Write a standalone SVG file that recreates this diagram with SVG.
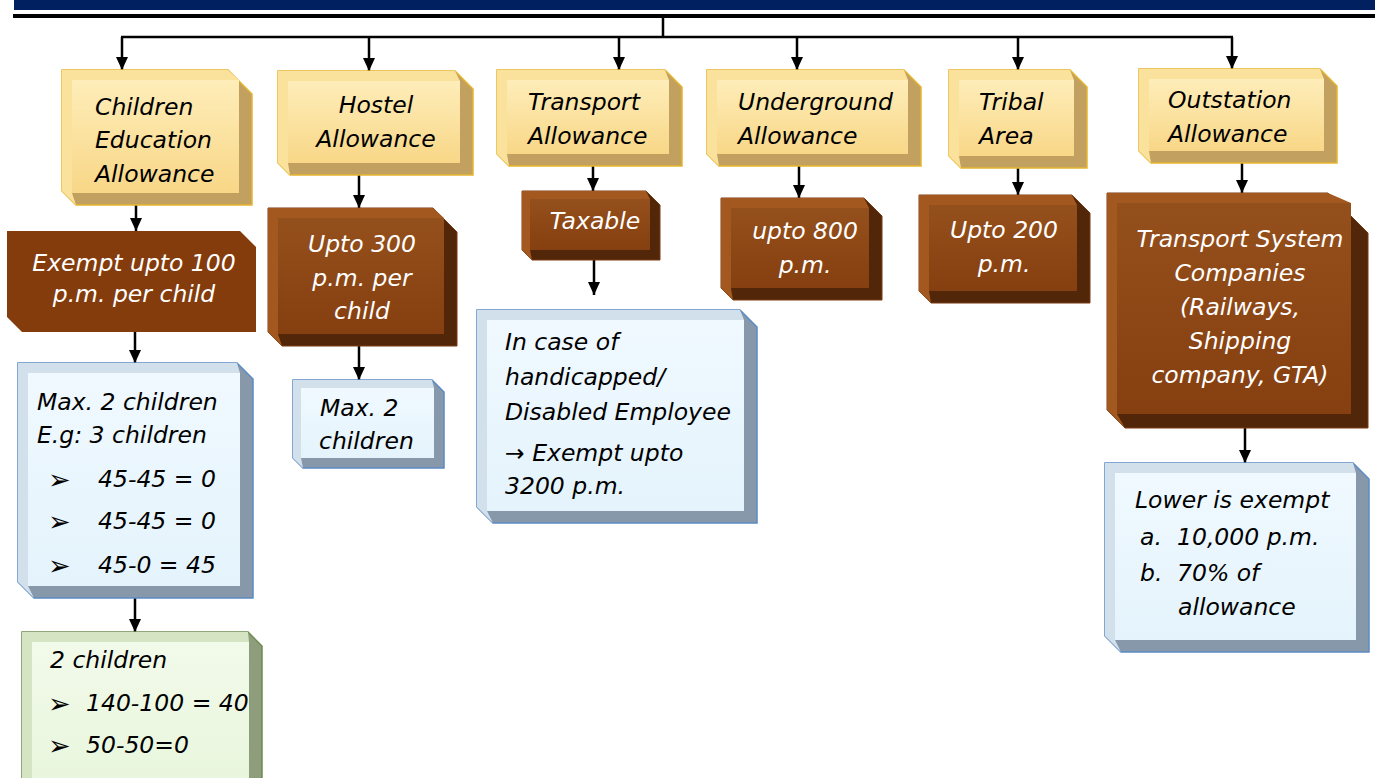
<svg xmlns="http://www.w3.org/2000/svg" width="1375" height="778" viewBox="0 0 1375 778">
<defs>
<linearGradient id="gy" x1="0" y1="0" x2="0" y2="1"><stop offset="0" stop-color="#FEEDB9"/><stop offset="1" stop-color="#F8D787"/></linearGradient>
<linearGradient id="gb" x1="0" y1="0" x2="0" y2="1"><stop offset="0" stop-color="#94501C"/><stop offset="1" stop-color="#863F10"/></linearGradient>
<linearGradient id="gl" x1="0" y1="0" x2="0" y2="1"><stop offset="0" stop-color="#F0F9FF"/><stop offset="1" stop-color="#E4F3FC"/></linearGradient>
<linearGradient id="gg" x1="0" y1="0" x2="0" y2="1"><stop offset="0" stop-color="#F2FAEA"/><stop offset="1" stop-color="#E8F6DC"/></linearGradient>
<marker id="ah" viewBox="0 0 13 12" refX="13" refY="6" markerWidth="13" markerHeight="12" orient="auto" markerUnits="userSpaceOnUse"><path d="M0,0 L13,6 L0,12 z" fill="#000"/></marker>
</defs>
<style>
.yo{fill:#C2A060;stroke:#E6B52E;stroke-width:1.5}
.yl{fill:#FAE19C}
.yf{fill:url(#gy)}
.bo{fill:#522608;stroke:#7A3A12;stroke-width:1}
.bl{fill:#A3581F}
.bf{fill:url(#gb)}
.lo{fill:#8798AA;stroke:#5B8AC4;stroke-width:1.5}
.ll{fill:#D2E0EC}
.lf{fill:url(#gl)}
.go{fill:#8E9E7C;stroke:#6E8A4E;stroke-width:1.5}
.gl{fill:#D5E5C4}
.gf{fill:url(#gg)}
.t{font-family:"DejaVu Sans",sans-serif;font-style:italic;font-size:23.5px;fill:#000}
.bu{font-family:"DejaVu Sans",sans-serif;font-size:27px;fill:#000}
.w{fill:#fff}
.m{text-anchor:middle}
.c{fill:none;stroke:#000;stroke-width:2.5}
</style>
<g id="header">
<rect x="14" y="0" width="1361" height="10" fill="#00205F"/>
<rect x="13" y="14" width="1362" height="4" fill="#000"/>
</g>
<g id="connectors">
<path class="c" d="M663,17 V37 M121,37 H1233"/>
<path class="c" d="M122,37 V70" marker-end="url(#ah)"/>
<path class="c" d="M369,37 V71" marker-end="url(#ah)"/>
<path class="c" d="M619,37 V70" marker-end="url(#ah)"/>
<path class="c" d="M797,37 V70" marker-end="url(#ah)"/>
<path class="c" d="M1018,37 V70" marker-end="url(#ah)"/>
<path class="c" d="M1232,37 V69" marker-end="url(#ah)"/>
<path class="c" d="M136,205 V231" marker-end="url(#ah)"/>
<path class="c" d="M135,332 V363" marker-end="url(#ah)"/>
<path class="c" d="M135,598 V632" marker-end="url(#ah)"/>
<path class="c" d="M359,175 V208" marker-end="url(#ah)"/>
<path class="c" d="M359,346 V380" marker-end="url(#ah)"/>
<path class="c" d="M593,166 V191" marker-end="url(#ah)"/>
<path class="c" d="M594,260 V295" marker-end="url(#ah)"/>
<path class="c" d="M799,166 V198" marker-end="url(#ah)"/>
<path class="c" d="M1018,168 V195" marker-end="url(#ah)"/>
<path class="c" d="M1242,163 V193" marker-end="url(#ah)"/>
<path class="c" d="M1245,428 V463" marker-end="url(#ah)"/>
</g>
<g id="cea">
<polygon class="yo" points="62,70 228,70 252,94 252,205 76,205 62,191"/>
<polygon class="yl" points="62,70 228,70 239,80 72,80 72,193 76,205 62,191"/>
<rect class="yf" x="72" y="80" width="167" height="113"/>
<text class="t" x="95" y="115">Children</text>
<text class="t" x="95" y="148">Education</text>
<text class="t" x="95" y="182">Allowance</text>
</g>
<g id="cea-exempt">
<polygon fill="#843C0C" points="7,231 240,231 256,247 256,332 22,332 7,317"/>
<text class="t w m" x="134" y="271">Exempt upto 100</text>
<text class="t w m" x="134" y="302">p.m. per child</text>
</g>
<g id="cea-max">
<polygon class="lo" points="18,363 237,363 253,379 253,598 34,598 18,582"/>
<polygon class="ll" points="18,363 237,363 240,373 28,373 28,586 34,598 18,582"/>
<rect class="lf" x="28" y="373" width="212" height="213"/>
<text class="t" x="37" y="410">Max. 2 children</text>
<text class="t" x="37" y="443">E.g: 3 children</text>
<text class="bu" x="48" y="489">➢</text><text class="t" x="98" y="487">45-45 = 0</text>
<text class="bu" x="48" y="531">➢</text><text class="t" x="98" y="529">45-45 = 0</text>
<text class="bu" x="48" y="575">➢</text><text class="t" x="98" y="573">45-0 = 45</text>
</g>
<g id="cea-two">
<polygon class="go" points="22,632 248,632 262,646 262,792 36,792 22,778"/>
<polygon class="gl" points="22,632 248,632 249,642 32,642 32,792 22,792"/>
<rect class="gf" x="32" y="642" width="217" height="150"/>
<text class="t" x="50" y="668">2 children</text>
<text class="bu" x="48" y="713">➢</text><text class="t" x="86" y="711">140-100 = 40</text>
<text class="bu" x="48" y="755">➢</text><text class="t" x="86" y="753">50-50=0</text>
</g>
<g id="hostel">
<polygon class="yo" points="278,71 455,71 473,89 473,175 290,175 278,163"/>
<polygon class="yl" points="278,71 455,71 460,81 288,81 288,163 290,175 278,163"/>
<rect class="yf" x="288" y="81" width="172" height="82"/>
<text class="t m" x="376" y="113">Hostel</text>
<text class="t m" x="376" y="147">Allowance</text>
</g>
<g id="hostel-upto">
<polygon class="bo" points="268,208 433,208 457,232 457,346 282,346 268,332"/>
<polygon class="bl" points="268,208 433,208 444,218 278,218 278,334 282,346 268,332"/>
<rect class="bf" x="278" y="218" width="166" height="116"/>
<text class="t w m" x="362" y="252">Upto 300</text>
<text class="t w m" x="362" y="286">p.m. per</text>
<text class="t w m" x="362" y="319">child</text>
</g>
<g id="hostel-max">
<polygon class="lo" points="293,380 432,380 444,392 444,468 303,468 293,458"/>
<polygon class="ll" points="293,380 432,380 434,388 301,388 301,458 303,468 293,458"/>
<rect class="lf" x="301" y="388" width="133" height="70"/>
<text class="t" x="320" y="416">Max. 2</text>
<text class="t" x="319" y="449">children</text>
</g>
<g id="transport">
<polygon class="yo" points="497,70 665,70 682,87 682,166 509,166 497,154"/>
<polygon class="yl" points="497,70 665,70 669,80 507,80 507,154 509,166 497,154"/>
<rect class="yf" x="507" y="80" width="162" height="74"/>
<text class="t" x="528" y="110">Transport</text>
<text class="t" x="528" y="144">Allowance</text>
</g>
<g id="transport-taxable">
<polygon class="bo" points="522,191 646,191 660,205 660,260 532,260 522,250"/>
<polygon class="bl" points="522,191 646,191 650,199 530,199 530,250 532,260 522,250"/>
<rect class="bf" x="530" y="199" width="120" height="51"/>
<text class="t w m" x="595" y="229">Taxable</text>
</g>
<g id="transport-disabled">
<polygon class="lo" points="477,310 740,310 757,327 757,523 493,523 477,507"/>
<polygon class="ll" points="477,310 740,310 744,320 487,320 487,511 493,523 477,507"/>
<rect class="lf" x="487" y="320" width="257" height="191"/>
<text class="t" x="505" y="350">In case of</text>
<text class="t" x="505" y="385">handicapped/</text>
<text class="t" x="505" y="420">Disabled Employee</text>
<text class="t" x="505" y="461">→ Exempt upto</text>
<text class="t" x="505" y="494">3200 p.m.</text>
</g>
<g id="underground">
<polygon class="yo" points="707,70 904,70 921,87 921,166 719,166 707,154"/>
<polygon class="yl" points="707,70 904,70 908,80 717,80 717,154 719,166 707,154"/>
<rect class="yf" x="717" y="80" width="191" height="74"/>
<text class="t" x="738" y="110">Underground</text>
<text class="t" x="738" y="144">Allowance</text>
</g>
<g id="underground-upto">
<polygon class="bo" points="721,198 864,198 882,216 882,300 733,300 721,288"/>
<polygon class="bl" points="721,198 864,198 869,208 731,208 731,288 733,300 721,288"/>
<rect class="bf" x="731" y="208" width="138" height="80"/>
<text class="t w m" x="805" y="239">upto 800</text>
<text class="t w m" x="805" y="273">p.m.</text>
</g>
<g id="tribal">
<polygon class="yo" points="949,70 1070,70 1087,87 1087,168 961,168 949,156"/>
<polygon class="yl" points="949,70 1070,70 1074,80 959,80 959,156 961,168 949,156"/>
<rect class="yf" x="959" y="80" width="115" height="76"/>
<text class="t" x="979" y="110">Tribal</text>
<text class="t" x="979" y="144">Area</text>
</g>
<g id="tribal-upto">
<polygon class="bo" points="919,195 1072,195 1090,213 1090,303 931,303 919,291"/>
<polygon class="bl" points="919,195 1072,195 1077,205 929,205 929,291 931,303 919,291"/>
<rect class="bf" x="929" y="205" width="148" height="86"/>
<text class="t w m" x="1004" y="238">Upto 200</text>
<text class="t w m" x="1004" y="272">p.m.</text>
</g>
<g id="outstation">
<polygon class="yo" points="1139,69 1320,69 1337,86 1337,163 1151,163 1139,151"/>
<polygon class="yl" points="1139,69 1320,69 1324,79 1149,79 1149,151 1151,163 1139,151"/>
<rect class="yf" x="1149" y="79" width="175" height="72"/>
<text class="t" x="1168" y="108">Outstation</text>
<text class="t" x="1168" y="142">Allowance</text>
</g>
<g id="outstation-companies">
<polygon class="bo" points="1107,193 1328,193 1368,233 1368,428 1125,428 1107,410"/>
<polygon class="bl" points="1107,193 1328,193 1351,203 1117,203 1117,414 1125,428 1107,410"/>
<rect class="bf" x="1117" y="203" width="234" height="211"/>
<text class="t w m" x="1240" y="247">Transport System</text>
<text class="t w m" x="1240" y="281">Companies</text>
<text class="t w m" x="1240" y="315">(Railways,</text>
<text class="t w m" x="1240" y="349">Shipping</text>
<text class="t w m" x="1240" y="383">company, GTA)</text>
</g>
<g id="outstation-lower">
<polygon class="lo" points="1105,463 1353,463 1369,479 1369,652 1121,652 1105,636"/>
<polygon class="ll" points="1105,463 1353,463 1356,473 1115,473 1115,640 1121,652 1105,636"/>
<rect class="lf" x="1115" y="473" width="241" height="167"/>
<text class="t" x="1135" y="508">Lower is exempt</text>
<text class="t" x="1140" y="545">a.</text><text class="t" x="1177" y="545">10,000 p.m.</text>
<text class="t" x="1140" y="581">b.</text><text class="t" x="1177" y="581">70% of</text>
<text class="t" x="1178" y="615">allowance</text>
</g>
</svg>
